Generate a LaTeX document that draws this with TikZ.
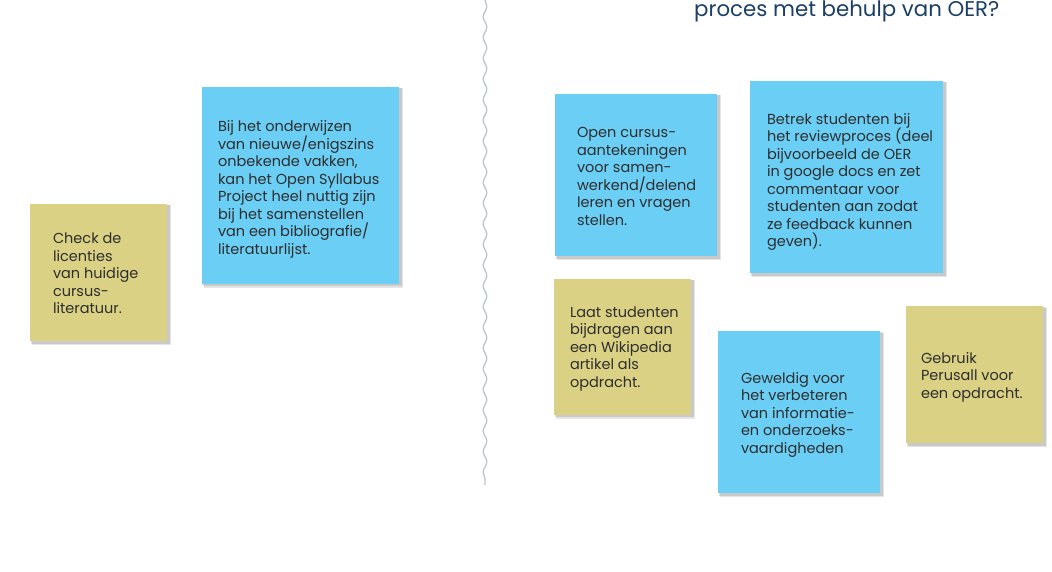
\documentclass[tikz,border=0pt]{standalone}
\usepackage{fontspec}
\setmainfont{Poppins}
\usetikzlibrary{decorations.pathmorphing}
\definecolor{noteyellow}{HTML}{DAD184}
\definecolor{noteblue}{HTML}{6BCEF5}
\definecolor{notetext}{HTML}{2E2E2E}
\definecolor{titleblue}{HTML}{1B3F66}
\definecolor{wavegray}{HTML}{BAC6CE}
\tikzset{
  notebox/.style={draw=none, anchor=north west, inner sep=0pt, outer sep=0pt},
  yellownote/.style={notebox, fill=noteyellow},
  bluenote/.style={notebox, fill=noteblue},
  notetxt/.style={anchor=north west, inner sep=0pt, outer sep=0pt, align=left,
    text=notetext, font=\fontsize{14.5}{17.5}\selectfont},
}
\newcommand{\notecard}[6]{% name, style, x1, y1, x2, y2
  \fill[black, opacity=0.10] (#3+1.5,#4+1.5) rectangle (#5+4,#6+4);
  \fill[black, opacity=0.12] (#3+1,#4+1) rectangle (#5+2.5,#6+2.5);
  \node[#2, minimum width=#5-#3, minimum height=#6-#4] (#1) at (#3,#4) {};
}
\begin{document}
\begin{tikzpicture}[x=1pt, y=-1pt]
\useasboundingbox (0,0) rectangle (1052,572);
\fill[white] (0,0) rectangle (1052,572);

% wavy divider
\coordinate (wtop) at (485,0);
\coordinate (wbot) at (485,485);
\draw[wavegray, line width=1.3pt, decorate,
  decoration={snake, amplitude=1.8pt, segment length=20.7pt}] (wtop) -- (wbot);

% title
\node[anchor=base west, inner sep=0pt, text=titleblue,
  font=\fontsize{21.3}{25}\selectfont] (title) at (694,17) {proces met behulp van OER?};

% notes
\notecard{n1}{yellownote}{30}{204}{167}{341}
\node[notetxt] (t1) at (53,233) {Check de\\licenties\\van huidige\\cursus-\\literatuur.};

\notecard{n2}{bluenote}{202}{87}{399}{283.5}
\node[notetxt] (t2) at (218,120.5) {Bij het onderwijzen\\van nieuwe/enigszins\\onbekende vakken,\\kan het Open Syllabus\\Project heel nuttig zijn\\bij het samenstellen\\van een bibliografie/\\literatuurlijst.};

\notecard{n3}{bluenote}{555}{94}{717}{256}
\node[notetxt] (t3) at (577,127.5) {Open cursus-\\aantekeningen\\voor samen-\\werkend/delend\\leren en vragen\\stellen.};

\notecard{n4}{bluenote}{750}{81}{943}{273}
\node[notetxt] (t4) at (767,113) {Betrek studenten bij\\het reviewproces (deel\\bijvoorbeeld de OER\\in google docs en zet\\commentaar voor\\studenten aan zodat\\ze feedback kunnen\\geven).};

\notecard{n5}{yellownote}{554}{278.5}{691}{414.5}
\node[notetxt] (t5) at (570,306.5) {Laat studenten\\bijdragen aan\\een Wikipedia\\artikel als\\opdracht.};

\notecard{n6}{bluenote}{718}{331}{880}{493}
\node[notetxt] (t6) at (741,372) {Geweldig voor\\het verbeteren\\van informatie-\\en onderzoeks-\\vaardigheden};

\notecard{n7}{yellownote}{906}{306}{1043}{443}
\node[notetxt] (t7) at (921,352) {Gebruik\\Perusall voor\\een opdracht.};
\end{tikzpicture}
\end{document}
